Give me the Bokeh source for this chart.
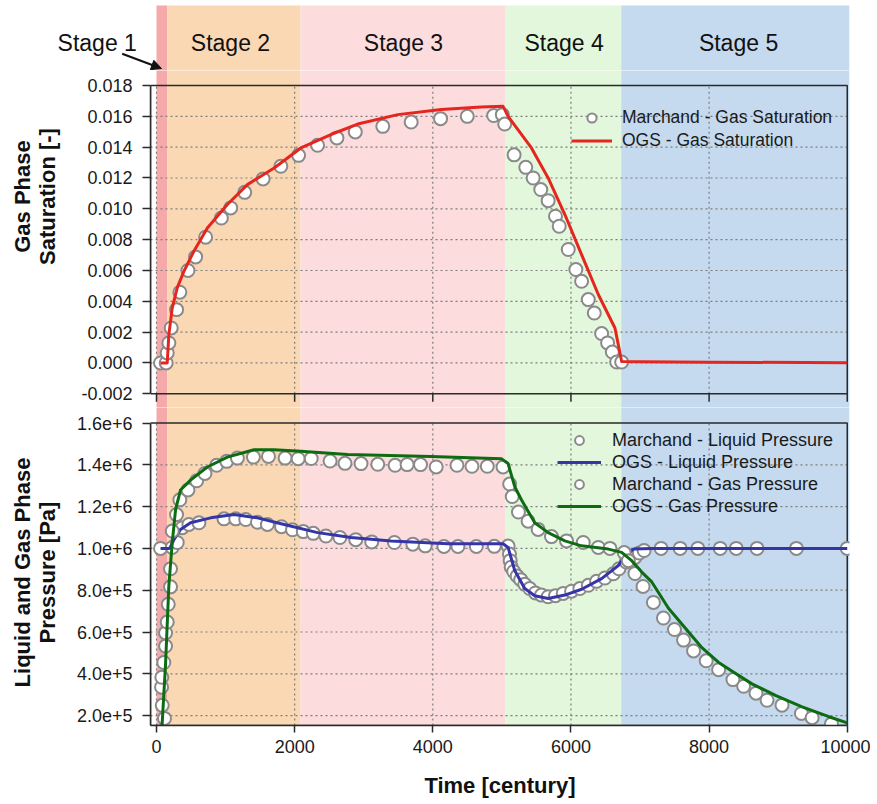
from bokeh.plotting import figure
from bokeh.layouts import column, row
from bokeh.models import (Range1d, FixedTicker, Label, Arrow, NormalHead, Legend, LegendItem)
from bokeh.embed import file_html
from bokeh.resources import INLINE

FONT = "Liberation Sans"

# ---------------- data ----------------
stage_names = ["Stage 1", "Stage 2", "Stage 3", "Stage 4", "Stage 5"]
stage_edges = [0, 155, 2085, 5053, 6728, 10033]
stage_colors = ["#f5a9aa", "#fbd8b4", "#fddcde", "#e2f7dc", "#c5daef"]

time_ticks = [0, 2000, 4000, 6000, 8000, 10000]
time_labels = ["0", "2000", "4000", "6000", "8000", "10000"]
sat_ticks = [-0.002, 0.0, 0.002, 0.004, 0.006, 0.008, 0.010, 0.012, 0.014, 0.016, 0.018]
sat_labels = ["-0.002", "0.000", "0.002", "0.004", "0.006", "0.008", "0.010",
              "0.012", "0.014", "0.016", "0.018"]
pres_ticks = [200000, 400000, 600000, 800000, 1000000, 1200000, 1400000, 1600000]
pres_labels = ["2.0e+5", "4.0e+5", "6.0e+5", "8.0e+5", "1.0e+6", "1.2e+6", "1.4e+6", "1.6e+6"]
sat_title = ["Gas Phase", "Saturation [-]"]
pres_title = ["Liquid and Gas Phase", "Pressure [Pa]"]
time_title = "Time [century]"

# Marchand - gas saturation
msat_t = [58, 140, 155, 179, 213, 290, 338, 455, 566, 711, 939, 1074, 1277, 1543, 1800,
          2057, 2332, 2612, 2878, 3276, 3687, 4112, 4499, 4881, 5007, 5041, 5177, 5346,
          5453, 5563, 5670, 5776, 5830, 5961, 6071, 6154, 6251, 6338, 6444, 6531, 6599,
          6662, 6734]
msat_v = [0.0, 0.0, 0.00065, 0.0013, 0.00227, 0.00346, 0.00459, 0.0060, 0.00688, 0.00816,
          0.0094, 0.01006, 0.01107, 0.01194, 0.01276, 0.01347, 0.01412, 0.0146, 0.01499,
          0.01535, 0.01563, 0.01585, 0.0160, 0.01605, 0.01611, 0.0155, 0.0135, 0.01269,
          0.0120, 0.01125, 0.01053, 0.00952, 0.00887, 0.00736, 0.00606, 0.0053, 0.00411,
          0.00324, 0.00191, 0.0013, 0.00071, 0.00006, 0.00006]

# OGS - gas saturation
osat_t = [58, 155, 179, 228, 300, 397, 541, 736, 1026, 1316, 1703, 2090, 2525, 2913, 3493,
          4122, 4702, 5017, 5090, 5428, 5670, 5912, 6154, 6396, 6637, 6734, 7000, 8000, 10000]
osat_v = [0.0, 0.0, 0.00184, 0.00357, 0.00487, 0.00595, 0.00725, 0.00876, 0.01028, 0.01157,
          0.01265, 0.01395, 0.01482, 0.0155, 0.01611, 0.01644, 0.01661, 0.01665, 0.0160,
          0.01395, 0.0120, 0.00963, 0.00703, 0.00444, 0.00227, 0.0001, 0.00008, 0.00005, 0.00002]

# Marchand - liquid pressure
mliq_t = [58, 228, 300, 373, 469, 614, 977, 1147, 1292, 1461, 1606, 1810, 1969, 2125, 2270,
          2453, 2655, 2885, 3116, 3444, 3711, 3890, 4161, 4364, 4630, 4890, 5090, 5110, 5120,
          5135, 5171, 5221, 5273, 5331, 5403, 5486, 5573, 5670, 5776, 5888, 6009, 6129, 6251,
          6371, 6492, 6614, 6695, 6800, 6927, 6990, 7059, 7305, 7581, 7837, 8161, 8393, 8694,
          9264, 10000]
mliq_v = [1000000, 1004700, 1028300, 1099000, 1114600, 1122600, 1141500, 1141500, 1138200,
          1125500, 1114600, 1103800, 1089000, 1080500, 1072200, 1059400, 1051900, 1042000,
          1031100, 1028300, 1020300, 1012300, 1009400, 1009400, 1009400, 1010000, 1011000,
          973000, 941500, 910400, 889700, 867900, 850500, 828300, 808000, 787000, 776700,
          768800, 773600, 784700, 795300, 808000, 823600, 842500, 858500, 878800, 902400,
          935000, 957000, 978000, 990000, 1000000, 1000000, 1000000, 1000000, 1000000,
          1000000, 1000000, 1000000]

# OGS - liquid pressure
oliq_t = [58, 190, 250, 348, 493, 784, 1122, 1461, 1848, 2332, 2816, 3396, 4219, 5017, 5090,
          5138, 5186, 5331, 5476, 5670, 5912, 6154, 6444, 6686, 6782, 6904, 7170, 10000]
oliq_v = [1000000, 1000000, 1040000, 1091000, 1122600, 1146200, 1161800, 1146200, 1114600,
          1075500, 1051900, 1035900, 1022000, 1022000, 1004700, 949500, 894000, 808000,
          773600, 760800, 776700, 804700, 855500, 918000, 965000, 996700, 1000000, 1000000]

# Marchand - gas pressure
mgas_t = [116, 83, 73, 77, 106, 131, 131, 155, 170, 203, 203, 228, 290, 338, 455, 581, 701,
          871, 1016, 1171, 1403, 1621, 1862, 2051, 2240, 2513, 2729, 2961, 3203, 3454, 3628,
          3822, 4049, 4350, 4567, 4789, 5017, 5113, 5150, 5240, 5380, 5525, 5718, 5936, 6178,
          6396, 6565, 6770, 6831, 6927, 7044, 7194, 7339, 7499, 7630, 7775, 7958, 8138, 8345,
          8500, 8679, 8839, 9056, 9337, 9492, 9772]
mgas_v = [186800, 249300, 336300, 383500, 454200, 533000, 595800, 647600, 732600, 816000,
          902400, 1083000, 1161800, 1232600, 1279700, 1323600, 1358500, 1397600, 1416500,
          1432000, 1436800, 1440100, 1432000, 1429300, 1430000, 1418000, 1407000, 1405700,
          1402400, 1397600, 1400900, 1400900, 1389600, 1397600, 1392900, 1392900, 1389600,
          1308000, 1248100, 1174000, 1130200, 1091000, 1056600, 1035900, 1028300, 1004700,
          1000000, 980000, 941500, 880000, 818000, 741800, 666800, 611800, 561300, 509700,
          462300, 419800, 372400, 340300, 307300, 273600, 250000, 210400, 190000, 160400]

# OGS - gas pressure
ogas_t = [80, 131, 179, 228, 276, 348, 493, 736, 1026, 1412, 1703, 2090, 2768, 3976, 4993,
          5090, 5186, 5283, 5476, 5670, 5912, 6154, 6541, 6734, 6879, 7025, 7170, 7412, 7654,
          7896, 8138, 8379, 8621, 8960, 9347, 9734, 10000]
ogas_v = [150000, 446200, 823600, 1028300, 1185400, 1279700, 1326900, 1389600, 1436800,
          1471700, 1471700, 1465100, 1449500, 1440100, 1429300, 1405700, 1295300, 1232600,
          1122600, 1075500, 1035900, 1012300, 996700, 981000, 941500, 886800, 839600, 713700,
          619100, 524800, 454200, 402300, 351900, 297000, 241900, 194800, 165000]

# ---------------- layout constants ----------------
PX_PER_T = 0.069075        # screen px per time unit
SAT_PX = 15415.0           # screen px per saturation unit
X_VIEW = (-86.9, 10032.6)
HEAD_X_VIEW = (X_VIEW[0] - 150 / PX_PER_T, X_VIEW[1])
HEAD_Y_VIEW = (0.018973, 0.023190)
SAT_VIEW = (-0.002889, 0.018973)
PRES_VIEW = (152750, 1674180)
LABEL_Y = 0.020725
STAGE_LABEL_X = [-858, 1071, 3576, 5900, 8426]
ARROW_START = (-497, 0.020056)
ARROW_END = (72, 0.019103)

FIG_W = 870
TITLE_W = 70
H_HEAD, H_TOP, H_BOT = 70, 337, 393
TITLE_LINE_X = [22, 47]          # px from the left edge
TITLE_TOP_Y = 211                # px from bottom of the top strip
TITLE_BOT_Y = 228                # px from bottom of the bottom strip
GRID_COLOR = "#7d7d7d"
BOX_COLOR = "#2a2a2a"
MARKER = dict(marker="circle", size=13, fill_color="white", line_color="#8a8a8a", line_width=2)

x_rng = Range1d(*X_VIEW)


def bare(width, height, **kw):
    p = figure(width=width, height=height, output_backend="svg", toolbar_location=None,
               x_axis_location=None, y_axis_location=None, min_border_left=0,
               min_border_right=0, min_border_top=0, min_border_bottom=0,
               outline_line_color=None, background_fill_color="white",
               border_fill_color="white", **kw)
    p.grid.visible = False
    return p


def add_stages(p, view):
    p.grid.visible = False
    span = view[1] - view[0]
    n = len(stage_colors)
    p.quad(left=stage_edges[:-1], right=stage_edges[1:], bottom=[view[0] - span] * n,
           top=[view[1] + span] * n, fill_color=stage_colors, line_color=None,
           level="underlay")


def style_yaxis(ax, ticks, labels, bounds):
    ax.ticker = FixedTicker(ticks=ticks)
    ax.major_label_overrides = dict(zip(ticks, labels))
    ax.bounds = bounds
    ax.major_label_text_font = FONT
    ax.major_label_text_font_size = "18px"
    ax.major_label_text_color = "#1a1a1a"
    ax.major_label_standoff = 10
    ax.major_tick_out = 8
    ax.major_tick_in = 0
    ax.minor_tick_line_color = None
    ax.axis_line_color = BOX_COLOR
    ax.axis_line_width = 1.5
    ax.major_tick_line_color = BOX_COLOR
    ax.major_tick_line_width = 1.5


def title_strip(height, lines, yc):
    t = bare(TITLE_W, height, x_range=Range1d(0, TITLE_W), y_range=Range1d(0, height))
    t.frame_align = False
    for lx, txt in zip(TITLE_LINE_X, lines):
        t.add_layout(Label(x=lx, y=yc, text=txt, angle=90, angle_units="deg",
                           text_font=FONT, text_font_size="22px", text_font_style="bold",
                           text_align="center", text_baseline="middle",
                           text_color="#111111"))
    return t


def make_legend(items, loc, glyph_w, pitch, font_size, standoff):
    return Legend(items=items, location=loc, padding=5, margin=0, spacing=0,
                  glyph_width=glyph_w, glyph_height=pitch, label_height=pitch,
                  label_standoff=standoff, label_text_font=FONT,
                  label_text_font_size=font_size, label_text_color="#1a1a1a",
                  background_fill_alpha=0, border_line_color=None)


# ---------------- header strip (stage names) ----------------
ph = bare(FIG_W, H_HEAD, x_range=Range1d(*HEAD_X_VIEW), y_range=Range1d(*HEAD_Y_VIEW))
ph.min_border_top = 5
ph.min_border_right = 21
ph.frame_align = False
add_stages(ph, HEAD_Y_VIEW)
for name, lx in zip(stage_names, STAGE_LABEL_X):
    ph.add_layout(Label(x=lx, y=LABEL_Y, text=name, text_font=FONT, text_font_size="23px",
                        text_align="center", text_baseline="middle", text_color="#111111"))
ph.add_layout(Arrow(end=NormalHead(size=10, fill_color="#111111", line_color="#111111"),
                    x_start=ARROW_START[0], y_start=ARROW_START[1],
                    x_end=ARROW_END[0], y_end=ARROW_END[1],
                    line_color="#111111", line_width=2))

# ---------------- top panel ----------------
p1 = figure(width=FIG_W - TITLE_W, height=H_TOP, x_range=x_rng, y_range=Range1d(*SAT_VIEW),
            output_backend="svg", toolbar_location=None, x_axis_location=None,
            min_border_left=150 - TITLE_W, min_border_right=21, min_border_top=0,
            min_border_bottom=0, outline_line_color=None, background_fill_color="white",
            border_fill_color="white")
add_stages(p1, SAT_VIEW)
style_yaxis(p1.yaxis[0], sat_ticks, sat_labels, (sat_ticks[0], sat_ticks[-1]))

inner_sat = sat_ticks[1:-1]
p1.segment(x0=[X_VIEW[0]] * len(inner_sat), x1=[time_ticks[-1]] * len(inner_sat),
           y0=inner_sat, y1=inner_sat, line_color=GRID_COLOR, line_dash="2 3", line_width=1.2)
p1.segment(x0=time_ticks[:-1], x1=time_ticks[:-1], y0=[sat_ticks[0]] * 5,
           y1=[sat_ticks[-1]] * 5, line_color=GRID_COLOR, line_dash="2 3", line_width=1.2)
# bottom ticks of the upper panel (no labels)
p1.segment(x0=time_ticks, x1=time_ticks, y0=[sat_ticks[0]] * 6,
           y1=[sat_ticks[0] - 8 / SAT_PX] * 6, line_color=BOX_COLOR, line_width=1.5)
p1.quad(left=[X_VIEW[0]], right=[time_ticks[-1]], bottom=[sat_ticks[0]], top=[sat_ticks[-1]],
        fill_color=None, line_color=BOX_COLOR, line_width=1.5)

r_msat = p1.scatter(msat_t, msat_v, **MARKER)
r_osat = p1.line(osat_t, osat_v, line_color="#e5261f", line_width=3, line_join="round")

p1.add_layout(make_legend(
    [LegendItem(label="Marchand - Gas Saturation", renderers=[r_msat]),
     LegendItem(label="OGS - Gas Saturation", renderers=[r_osat])],
    (421, 255), 41, 23, "17.5px", 10))

# ---------------- bottom panel ----------------
p2 = figure(width=FIG_W - TITLE_W, height=H_BOT, x_range=x_rng, y_range=Range1d(*PRES_VIEW),
            output_backend="svg", toolbar_location=None,
            min_border_left=150 - TITLE_W, min_border_right=21, min_border_top=0,
            min_border_bottom=71, outline_line_color=None, background_fill_color="white",
            border_fill_color="white")
add_stages(p2, PRES_VIEW)
style_yaxis(p2.yaxis[0], pres_ticks, pres_labels, (PRES_VIEW[0], pres_ticks[-1]))

xa = p2.xaxis[0]
xa.ticker = FixedTicker(ticks=time_ticks)
xa.major_label_overrides = dict(zip(time_ticks, time_labels))
xa.bounds = (X_VIEW[0], time_ticks[-1])
xa.axis_label = time_title
xa.axis_label_text_font = FONT
xa.axis_label_text_font_size = "22px"
xa.axis_label_text_font_style = "bold"
xa.axis_label_text_color = "#111111"
xa.axis_label_standoff = 17
xa.major_label_text_font = FONT
xa.major_label_text_font_size = "18px"
xa.major_label_text_color = "#1a1a1a"
xa.major_label_standoff = 7
xa.major_tick_out = 7
xa.major_tick_in = 0
xa.minor_tick_line_color = None
xa.axis_line_color = BOX_COLOR
xa.axis_line_width = 1.5
xa.major_tick_line_color = BOX_COLOR
xa.major_tick_line_width = 1.5

inner_p = pres_ticks[:-1]
p2.segment(x0=[X_VIEW[0]] * len(inner_p), x1=[time_ticks[-1]] * len(inner_p),
           y0=inner_p, y1=inner_p, line_color=GRID_COLOR, line_dash="2 3", line_width=1.2)
p2.segment(x0=time_ticks[:-1], x1=time_ticks[:-1], y0=[PRES_VIEW[0]] * 5,
           y1=[pres_ticks[-1]] * 5, line_color=GRID_COLOR, line_dash="2 3", line_width=1.2)
p2.quad(left=[X_VIEW[0]], right=[time_ticks[-1]], bottom=[PRES_VIEW[0]], top=[pres_ticks[-1]],
        fill_color=None, line_color=BOX_COLOR, line_width=1.5)

r_mliq = p2.scatter(mliq_t, mliq_v, **MARKER)
r_oliq = p2.line(oliq_t, oliq_v, line_color="#3535a8", line_width=3, line_join="round")
r_mgas = p2.scatter(mgas_t, mgas_v, **MARKER)
r_ogas = p2.line(ogas_t, ogas_v, line_color="#0d6b12", line_width=3, line_join="round")

p2.add_layout(make_legend(
    [LegendItem(label="Marchand - Liquid Pressure", renderers=[r_mliq]),
     LegendItem(label="OGS - Liquid Pressure", renderers=[r_oliq]),
     LegendItem(label="Marchand - Gas Pressure", renderers=[r_mgas]),
     LegendItem(label="OGS - Gas Pressure", renderers=[r_ogas])],
    (407, 208), 44, 22, "18px", 11))

t1 = title_strip(H_TOP, sat_title, TITLE_TOP_Y)
t2 = title_strip(H_BOT, pres_title, TITLE_BOT_Y)

layout = column(ph, row(t1, p1, spacing=0), row(t2, p2, spacing=0), spacing=0)
open("out.html", "w").write(file_html(layout, INLINE))
